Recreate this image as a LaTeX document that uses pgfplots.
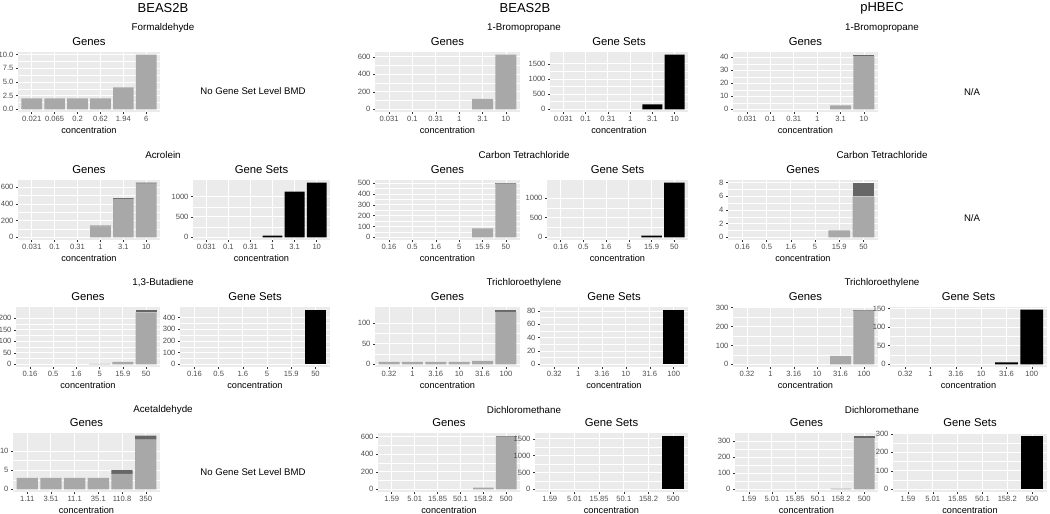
\documentclass[border=0pt]{standalone}
\usepackage{fontspec}
\setmainfont{Liberation Sans}
\usepackage{pgfplots}
\pgfplotsset{compat=1.18}
\definecolor{panelbg}{HTML}{EBEBEB}
\definecolor{barlight}{HTML}{A8A8A8}
\definecolor{bardark}{HTML}{666666}
\definecolor{labc}{HTML}{4D4D4D}
\definecolor{tickc}{HTML}{333333}
\pgfplotsset{
  gg/.style={
    scale only axis, anchor=north west,
    axis background/.style={fill=panelbg},
    separate axis lines, axis x line*=bottom, axis y line*=left,
    axis line style={draw=none},
    xmin=0.4, xmax=6.6, xtick={1,2,3,4,5,6},
    tick align=outside, major tick length=2pt, minor tick length=0pt,
    tick style={color=tickc, line width=0.5pt},
    xmajorgrids, ymajorgrids, yminorgrids, minor y tick num=1,
    major grid style={white, line width=0.9pt},
    minor grid style={white, line width=0.45pt},
    ticklabel style={font=\fontsize{7.6}{8}\selectfont, text=labc},
    xticklabel style={yshift=1pt},
    yticklabel style={xshift=1pt},
    xlabel={concentration},
    xlabel style={font=\fontsize{9.2}{10}\selectfont, yshift=2pt},
    title style={font=\fontsize{11.3}{12}\selectfont, yshift=-3pt},
    ybar stacked, bar width=0.9,
    /pgf/number format/assume math mode=true,
    /pgf/number format/1000 sep={},
    scaled y ticks=false,
  },
  genes/.style={gg, title={Genes}},
  sets/.style={gg, title={Gene Sets}},
  catF/.style={xticklabels={0.021,0.065,0.2,0.62,1.94,6}},
  catA/.style={xticklabels={0.031,0.1,0.31,1,3.1,10}},
  catC/.style={xticklabels={0.16,0.5,1.6,5,15.9,50}},
  catT/.style={xticklabels={0.32,1,3.16,10,31.6,100}},
  catE/.style={xticklabels={1.11,3.51,11.1,35.1,110.8,350}},
  catD/.style={xticklabels={1.59,5.01,15.85,50.1,158.2,500}},
}
\newcommand{\light}[1]{\addplot[fill=barlight, draw=none] coordinates {#1};}
\newcommand{\dark}[1]{\addplot[fill=bardark, draw=none] coordinates {#1};}
\newcommand{\blk}[1]{\addplot[fill=black, draw=none] coordinates {#1};}
\begin{document}
\begin{tikzpicture}
% headers
\node[font=\fontsize{13}{14}\selectfont] at (163pt,-8pt) {BEAS2B};
\node[font=\fontsize{13}{14}\selectfont] at (525pt,-8pt) {BEAS2B};
\node[font=\fontsize{13}{14}\selectfont] at (882pt,-8pt) {pHBEC};
% compound titles
\foreach \yy/\aa/\bb/\cc in {28/Formaldehyde/1-Bromopropane/1-Bromopropane,
  155/Acrolein/Carbon Tetrachloride/Carbon Tetrachloride,
  283/{1,3-Butadiene}/Trichloroethylene/Trichloroethylene,
  410/Acetaldehyde/Dichloromethane/Dichloromethane}{
  \node[font=\fontsize{9.8}{11}\selectfont] at (163pt,-\yy pt) {\aa};
  \node[font=\fontsize{9.8}{11}\selectfont] at (524pt,-\yy pt) {\bb};
  \node[font=\fontsize{9.8}{11}\selectfont] at (882pt,-\yy pt) {\cc};
}
\node[font=\fontsize{9.6}{11}\selectfont] at (253pt,-91pt) {No Gene Set Level BMD};
\node[font=\fontsize{9.6}{11}\selectfont] at (253pt,-472pt) {No Gene Set Level BMD};
\node[font=\fontsize{9.6}{11}\selectfont] at (972pt,-92pt) {N/A};
\node[font=\fontsize{9.6}{11}\selectfont] at (972pt,-218pt) {N/A};

% ===== Row 1 =====
\begin{axis}[genes, catF, at={(18pt,-52pt)}, width=142pt, height=60pt,
  ymin=-0.5, ymax=10.5, ytick={0,2.5,5,7.5,10}, yticklabels={0.0,2.5,5.0,7.5,10.0}]
\light{(1,2) (2,2) (3,2) (4,2) (5,4) (6,10)}
\end{axis}
\begin{axis}[genes, catA, at={(375pt,-52pt)}, width=145pt, height=60pt,
  ymin=-31.25, ymax=656.25, ytick={0,200,400,600}]
\light{(1,0) (2,0) (3,0) (4,0) (5,120) (6,625)}
\end{axis}
\begin{axis}[sets, catA, at={(550pt,-52pt)}, width=138pt, height=60pt,
  ymin=-90.25, ymax=1895.25, ytick={0,500,1000,1500}]
\blk{(1,0) (2,0) (3,0) (4,0) (5,165) (6,1805)}
\end{axis}
\begin{axis}[genes, catA, at={(733pt,-52pt)}, width=145pt, height=60pt,
  ymin=-2.1, ymax=44.1, ytick={0,10,20,30,40}]
\light{(1,0) (2,0) (3,0) (4,0) (5,3) (6,41)}
\dark{(1,0) (2,0) (3,0) (4,0) (5,0) (6,1)}
\end{axis}

% ===== Row 2 =====
\begin{axis}[genes, catA, at={(18pt,-180pt)}, width=142pt, height=60pt,
  ymin=-32.75, ymax=687.75, ytick={0,200,400,600}]
\light{(1,0) (2,0) (3,0) (4,132) (5,462) (6,645)}
\dark{(1,0) (2,0) (3,0) (4,8) (5,8) (6,10)}
\end{axis}
\begin{axis}[sets, catA, at={(193pt,-180pt)}, width=137pt, height=60pt,
  ymin=-67, ymax=1407, ytick={0,500,1000}]
\blk{(1,0) (2,0) (3,0) (4,40) (5,1120) (6,1340)}
\end{axis}
\begin{axis}[genes, catC, at={(375pt,-180pt)}, width=145pt, height=60pt,
  ymin=-25.25, ymax=530.25, ytick={0,100,200,300,400,500}]
\light{(1,0) (2,0) (3,0) (4,0) (5,82) (6,500)}
\dark{(1,0) (2,0) (3,0) (4,0) (5,0) (6,5)}
\end{axis}
\begin{axis}[sets, catC, at={(547pt,-180pt)}, width=141pt, height=60pt,
  ymin=-69.5, ymax=1459.5, ytick={0,500,1000}]
\blk{(1,0) (2,0) (3,0) (4,0) (5,40) (6,1390)}
\end{axis}
\begin{axis}[genes, catC, at={(728pt,-180pt)}, width=150pt, height=60pt,
  ymin=-0.4, ymax=8.4, ytick={0,2,4,6,8}]
\light{(1,0) (2,0) (3,0) (4,0) (5,1) (6,6)}
\dark{(1,0) (2,0) (3,0) (4,0) (5,0) (6,2)}
\end{axis}

% ===== Row 3 =====
\begin{axis}[genes, catC, at={(16pt,-307pt)}, width=144pt, height=60pt,
  ymin=-11.85, ymax=248.85, ytick={0,50,100,150,200}]
\light{(1,0) (2,0) (3,0) (4,2) (5,10) (6,226)}
\dark{(1,0) (2,0) (3,0) (4,0) (5,0) (6,11)}
\end{axis}
\begin{axis}[sets, catC, at={(180pt,-307pt)}, width=150pt, height=60pt,
  ymin=-23.4, ymax=491.4, ytick={0,100,200,300,400}]
\blk{(1,0) (2,0) (3,0) (4,0) (5,0) (6,468)}
\end{axis}
\begin{axis}[genes, catT, at={(375pt,-307pt)}, width=145pt, height=60pt,
  ymin=-6.65, ymax=139.65, ytick={0,50,100}]
\light{(1,6) (2,6) (3,6) (4,6) (5,8) (6,128)}
\dark{(1,0) (2,0) (3,0) (4,0) (5,0) (6,5)}
\end{axis}
\begin{axis}[sets, catT, at={(540pt,-307pt)}, width=148pt, height=60pt,
  ymin=-4.1, ymax=86.1, ytick={0,20,40,60,80}]
\blk{(1,0) (2,0) (3,0) (4,0) (5,0) (6,82)}
\end{axis}
\begin{axis}[genes, catT, at={(733pt,-307pt)}, width=145pt, height=60pt,
  ymin=-14.45, ymax=303.45, ytick={0,100,200,300}]
\light{(1,0) (2,0) (3,0) (4,0) (5,45) (6,285)}
\dark{(1,0) (2,0) (3,0) (4,0) (5,0) (6,4)}
\end{axis}
\begin{axis}[sets, catT, at={(890pt,-307pt)}, width=157pt, height=60pt,
  ymin=-7.35, ymax=154.35, ytick={0,50,100,150}]
\blk{(1,0) (2,0) (3,0) (4,0) (5,5) (6,147)}
\end{axis}

% ===== Row 4 =====
\begin{axis}[genes, catE, at={(13pt,-433pt)}, width=147pt, height=59pt,
  ymin=-0.7, ymax=14.7, ytick={0,5,10}]
\light{(1,3) (2,3) (3,3) (4,3) (5,4) (6,13)}
\dark{(1,0) (2,0) (3,0) (4,0) (5,1) (6,1)}
\end{axis}
\begin{axis}[genes, catD, at={(378pt,-433pt)}, width=142pt, height=59pt,
  ymin=-30.65, ymax=643.65, ytick={0,200,400,600}]
\light{(1,0) (2,0) (3,0) (4,0) (5,20) (6,605)}
\dark{(1,0) (2,0) (3,0) (4,0) (5,0) (6,8)}
\end{axis}
\begin{axis}[sets, catD, at={(535pt,-433pt)}, width=153pt, height=59pt,
  ymin=-79.75, ymax=1674.75, ytick={0,500,1000,1500}]
\blk{(1,0) (2,0) (3,0) (4,0) (5,0) (6,1595)}
\end{axis}
\begin{axis}[genes, catD, at={(735pt,-433pt)}, width=143pt, height=59pt,
  ymin=-16.75, ymax=351.75, ytick={0,100,200,300}]
\light{(1,0) (2,0) (3,0) (4,0) (5,4) (6,320)}
\dark{(1,0) (2,0) (3,0) (4,0) (5,0) (6,15)}
\end{axis}
\begin{axis}[sets, catD, at={(893pt,-433pt)}, width=154pt, height=59pt,
  ymin=-14.5, ymax=304.5, ytick={0,100,200,300}]
\blk{(1,0) (2,0) (3,0) (4,0) (5,0) (6,290)}
\end{axis}

\pgfresetboundingbox
\useasboundingbox (0,0) rectangle (1050pt,-514pt);
\end{tikzpicture}
\end{document}
